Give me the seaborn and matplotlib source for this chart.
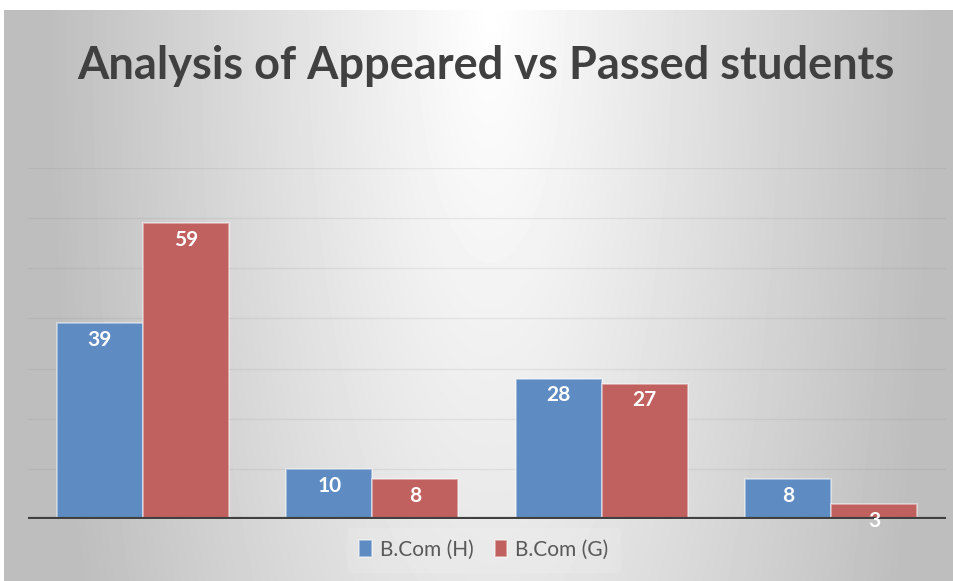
import numpy as np
import pandas as pd
import seaborn as sns
import matplotlib.pyplot as plt

groups = ["Group 1", "Group 2", "Group 3", "Group 4"]
bcom_h = [39, 10, 28, 8]
bcom_g = [59, 8, 27, 3]
series_names = ["B.Com (H)", "B.Com (G)"]
colors = ["#5e8bc2", "#c0615f"]

df = pd.DataFrame({
    "group": groups * 2,
    "value": bcom_h + bcom_g,
    "series": [series_names[0]] * 4 + [series_names[1]] * 4,
})

sns.set_theme(style="white")
plt.rcParams['font.family'] = ['Lato', 'DejaVu Sans']

fig = plt.figure(figsize=(9.54, 5.81), dpi=100)
fig.patch.set_facecolor("white")

# radial-ish grey background
bg = fig.add_axes([4 / 954, 0, 950 / 954, 571 / 581], zorder=-5)
xx, yy = np.meshgrid(np.arange(950), np.arange(571))
d = np.sqrt(((xx - 486) / 440.0) ** 2 + ((yy - 0) / 1500.0) ** 2)
d = np.clip(d, 0, 1)
shade = (255 - 65 * d) / 255.0
bg.imshow(shade, cmap="gray", vmin=0, vmax=1, aspect="auto", interpolation="bilinear")
bg.axis("off")

ax = fig.add_axes([28 / 954, 62 / 581, 918 / 954, 351 / 581])
ax.set_facecolor("none")
sns.barplot(data=df, x="group", y="value", hue="series", palette=colors,
            saturation=1, width=0.75, ax=ax, edgecolor=(1, 1, 1, 0.5),
            linewidth=1.2, zorder=3)

ax.set_ylim(0, 70)
ax.set_xlim(-0.5, 3.5)
ax.set_yticks(range(10, 71, 10))
ax.yaxis.grid(True, color="#808080", alpha=0.13, linewidth=1)
ax.set_axisbelow(True)
ax.set_yticklabels([])
ax.set_xticklabels([])
ax.tick_params(length=0)
ax.set_xlabel("")
ax.set_ylabel("")
for s in ax.spines.values():
    s.set_visible(False)
ax.axhline(0, color="#404040", linewidth=3, zorder=4)

for cont in ax.containers:
    for bar in cont:
        h = bar.get_height()
        ax.annotate(f"{int(h)}", (bar.get_x() + bar.get_width() / 2, h),
                    xytext=(0, -12), textcoords="offset points",
                    ha="center", va="center", color="white",
                    fontsize=15, fontweight="bold", zorder=5)

leg = ax.legend(loc="center", bbox_to_anchor=(484 / 954, 31 / 581),
                bbox_transform=fig.transFigure, ncol=2, frameon=True,
                fontsize=15, handlelength=0.6, handleheight=0.9,
                handletextpad=0.4, columnspacing=1.0, borderpad=0.6,
                framealpha=0.12)
leg.get_frame().set_facecolor("white")
leg.get_frame().set_edgecolor("none")
for t in leg.get_texts():
    t.set_color("#595959")

fig.text(486 / 954, 1 - 66 / 581, "Analysis of Appeared vs Passed students",
         ha="center", va="center", fontsize=32.5, fontweight="bold", color="#404040")

fig.savefig("out.png", dpi=100)
